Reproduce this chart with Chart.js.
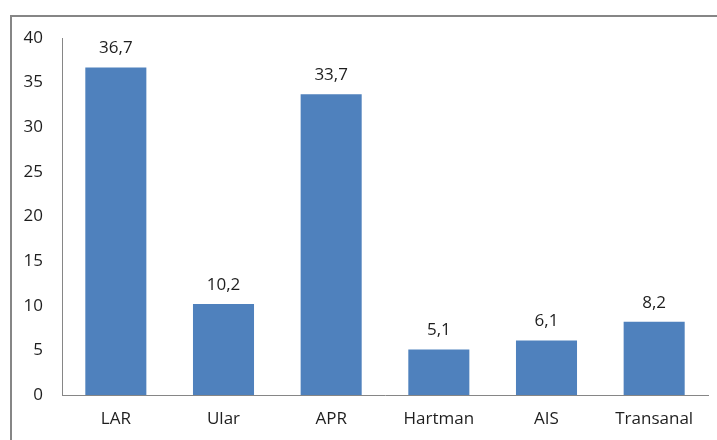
<!DOCTYPE html>
<html>
<head>
<meta charset="utf-8">
<script src="https://cdn.jsdelivr.net/npm/chart.js@4/dist/chart.umd.min.js"></script>
<style>
    html, body { margin: 0; padding: 0; background: #fff; }
    #wrap { width: 717px; height: 440px; }
</style>
</head>
<body>
<div id="wrap"><canvas id="barChart"></canvas></div>
<script>
const categories = ['LAR', 'Ular', 'APR', 'Hartman', 'AIS', 'Transanal'];
const values = [36.7, 10.2, 33.7, 5.1, 6.1, 8.2];
const yTicks = [0, 5, 10, 15, 20, 25, 30, 35, 40];

// Outer frame (only top and left edges are visible in the picture)
const framePlugin = {
    id: 'frame',
    beforeDraw(chart) {
        const ctx = chart.ctx;
        ctx.save();
        ctx.strokeStyle = '#868686';
        ctx.lineWidth = 2;
        ctx.strokeRect(11, 16, 760, 500);
        ctx.restore();
    }
};

// Value labels above the bars, with decimal comma
const valueLabels = {
    id: 'valueLabels',
    afterDatasetsDraw(chart) {
        const ctx = chart.ctx;
        const meta = chart.getDatasetMeta(0);
        ctx.save();
        ctx.font = '17px "Open Sans"';
        ctx.fillStyle = '#1e1e1e';
        ctx.textAlign = 'center';
        ctx.textBaseline = 'middle';
        meta.data.forEach((bar, i) => {
            ctx.fillText(values[i].toFixed(1).replace('.', ','), bar.x, bar.y - 19);
        });
        ctx.restore();
    }
};

document.addEventListener('DOMContentLoaded', function () {
    const canvas = document.getElementById('barChart');
    new Chart(canvas, {
        type: 'bar',
        data: {
            labels: categories,
            datasets: [{
                data: values,
                backgroundColor: '#4F81BD',
                categoryPercentage: 1,
                barPercentage: 0.567
            }]
        },
        options: {
            responsive: true,
            maintainAspectRatio: false,
            animation: false,
            layout: {padding: {left: 0, top: 38, right: 9, bottom: 0}},
            scales: {
                x: {
                    grid: {display: false, drawTicks: false},
                    border: {color: '#868686', width: 1},
                    ticks: {
                        color: '#1e1e1e',
                        font: {family: 'Open Sans', size: 17},
                        padding: 14,
                        maxRotation: 0
                    },
                    afterFit: s => { s.height = 45; }
                },
                y: {
                    min: 0,
                    max: 40,
                    grid: {display: false, drawTicks: false},
                    border: {color: '#868686', width: 1},
                    afterBuildTicks: s => { s.ticks = yTicks.map(v => ({value: v})); },
                    ticks: {
                        color: '#1e1e1e',
                        font: {family: 'Open Sans', size: 17},
                        padding: 19
                    },
                    afterFit: s => { s.width = 62; }
                }
            },
            plugins: {
                legend: {display: false},
                tooltip: {enabled: false}
            }
        },
        plugins: [framePlugin, valueLabels]
    });
});
</script>
</body>
</html>
